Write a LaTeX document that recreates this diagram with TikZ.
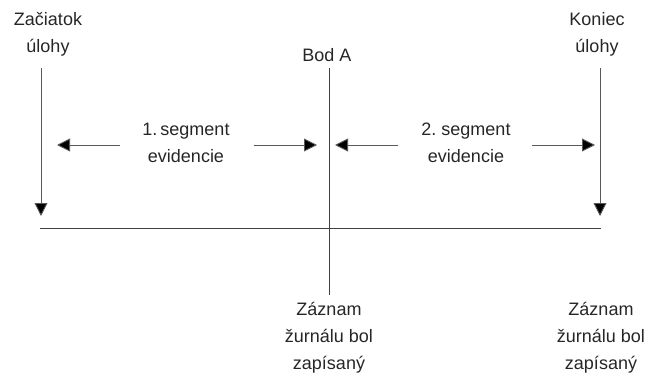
\documentclass[tikz,border=0pt]{standalone}
\usepackage{fontspec}
\setmainfont{Liberation Sans}
\usetikzlibrary{arrows.meta}
\begin{document}
\begin{tikzpicture}[x=1pt,y=-1pt,
  lbl/.style={font=\fontsize{18}{27}\selectfont,align=center,text=black!85,inner sep=0pt},
  ln/.style={draw=black!75,line width=0.9pt},
  arr/.style={draw=black!65,line width=0.9pt,-{Triangle[length=13pt,width=13pt,fill=black]}}]
\useasboundingbox (0,0) rectangle (654,375);
\node[lbl] (start) at (48,34) {Začiatok\\úlohy};
\node[lbl] (end) at (597,34) {Koniec\\úlohy};
\node[lbl] (bod) at (327,55) {Bod A};
\node[lbl] (s1) at (186,143) {1.\,segment\\evidencie};
\node[lbl] (s2) at (466,143) {2.\ segment\\evidencie};
\node[lbl] (z1) at (329,338) {Záznam\\žurnálu bol\\zapísaný};
\node[lbl] (z2) at (601,338) {Záznam\\žurnálu bol\\zapísaný};
\coordinate (a1) at (41,68); \coordinate (a2) at (41,216);
\coordinate (b1) at (600,68); \coordinate (b2) at (600,216);
\coordinate (hl) at (40,228); \coordinate (hr) at (601,228);
\coordinate (v1) at (329,68); \coordinate (v2) at (329,295);
\draw[arr] (a1) -- (a2);
\draw[arr] (b1) -- (b2);
\draw[ln] (hl) -- (hr);
\draw[ln] (v1) -- (v2);
\coordinate (p1) at (120,145); \coordinate (t1) at (57,145);
\coordinate (p2) at (254,145); \coordinate (t2) at (317,145);
\coordinate (p3) at (398,145); \coordinate (t3) at (335,145);
\coordinate (p4) at (532,145); \coordinate (t4) at (595,145);
\draw[arr] (p1) -- (t1);
\draw[arr] (p2) -- (t2);
\draw[arr] (p3) -- (t3);
\draw[arr] (p4) -- (t4);
\end{tikzpicture}
\end{document}
